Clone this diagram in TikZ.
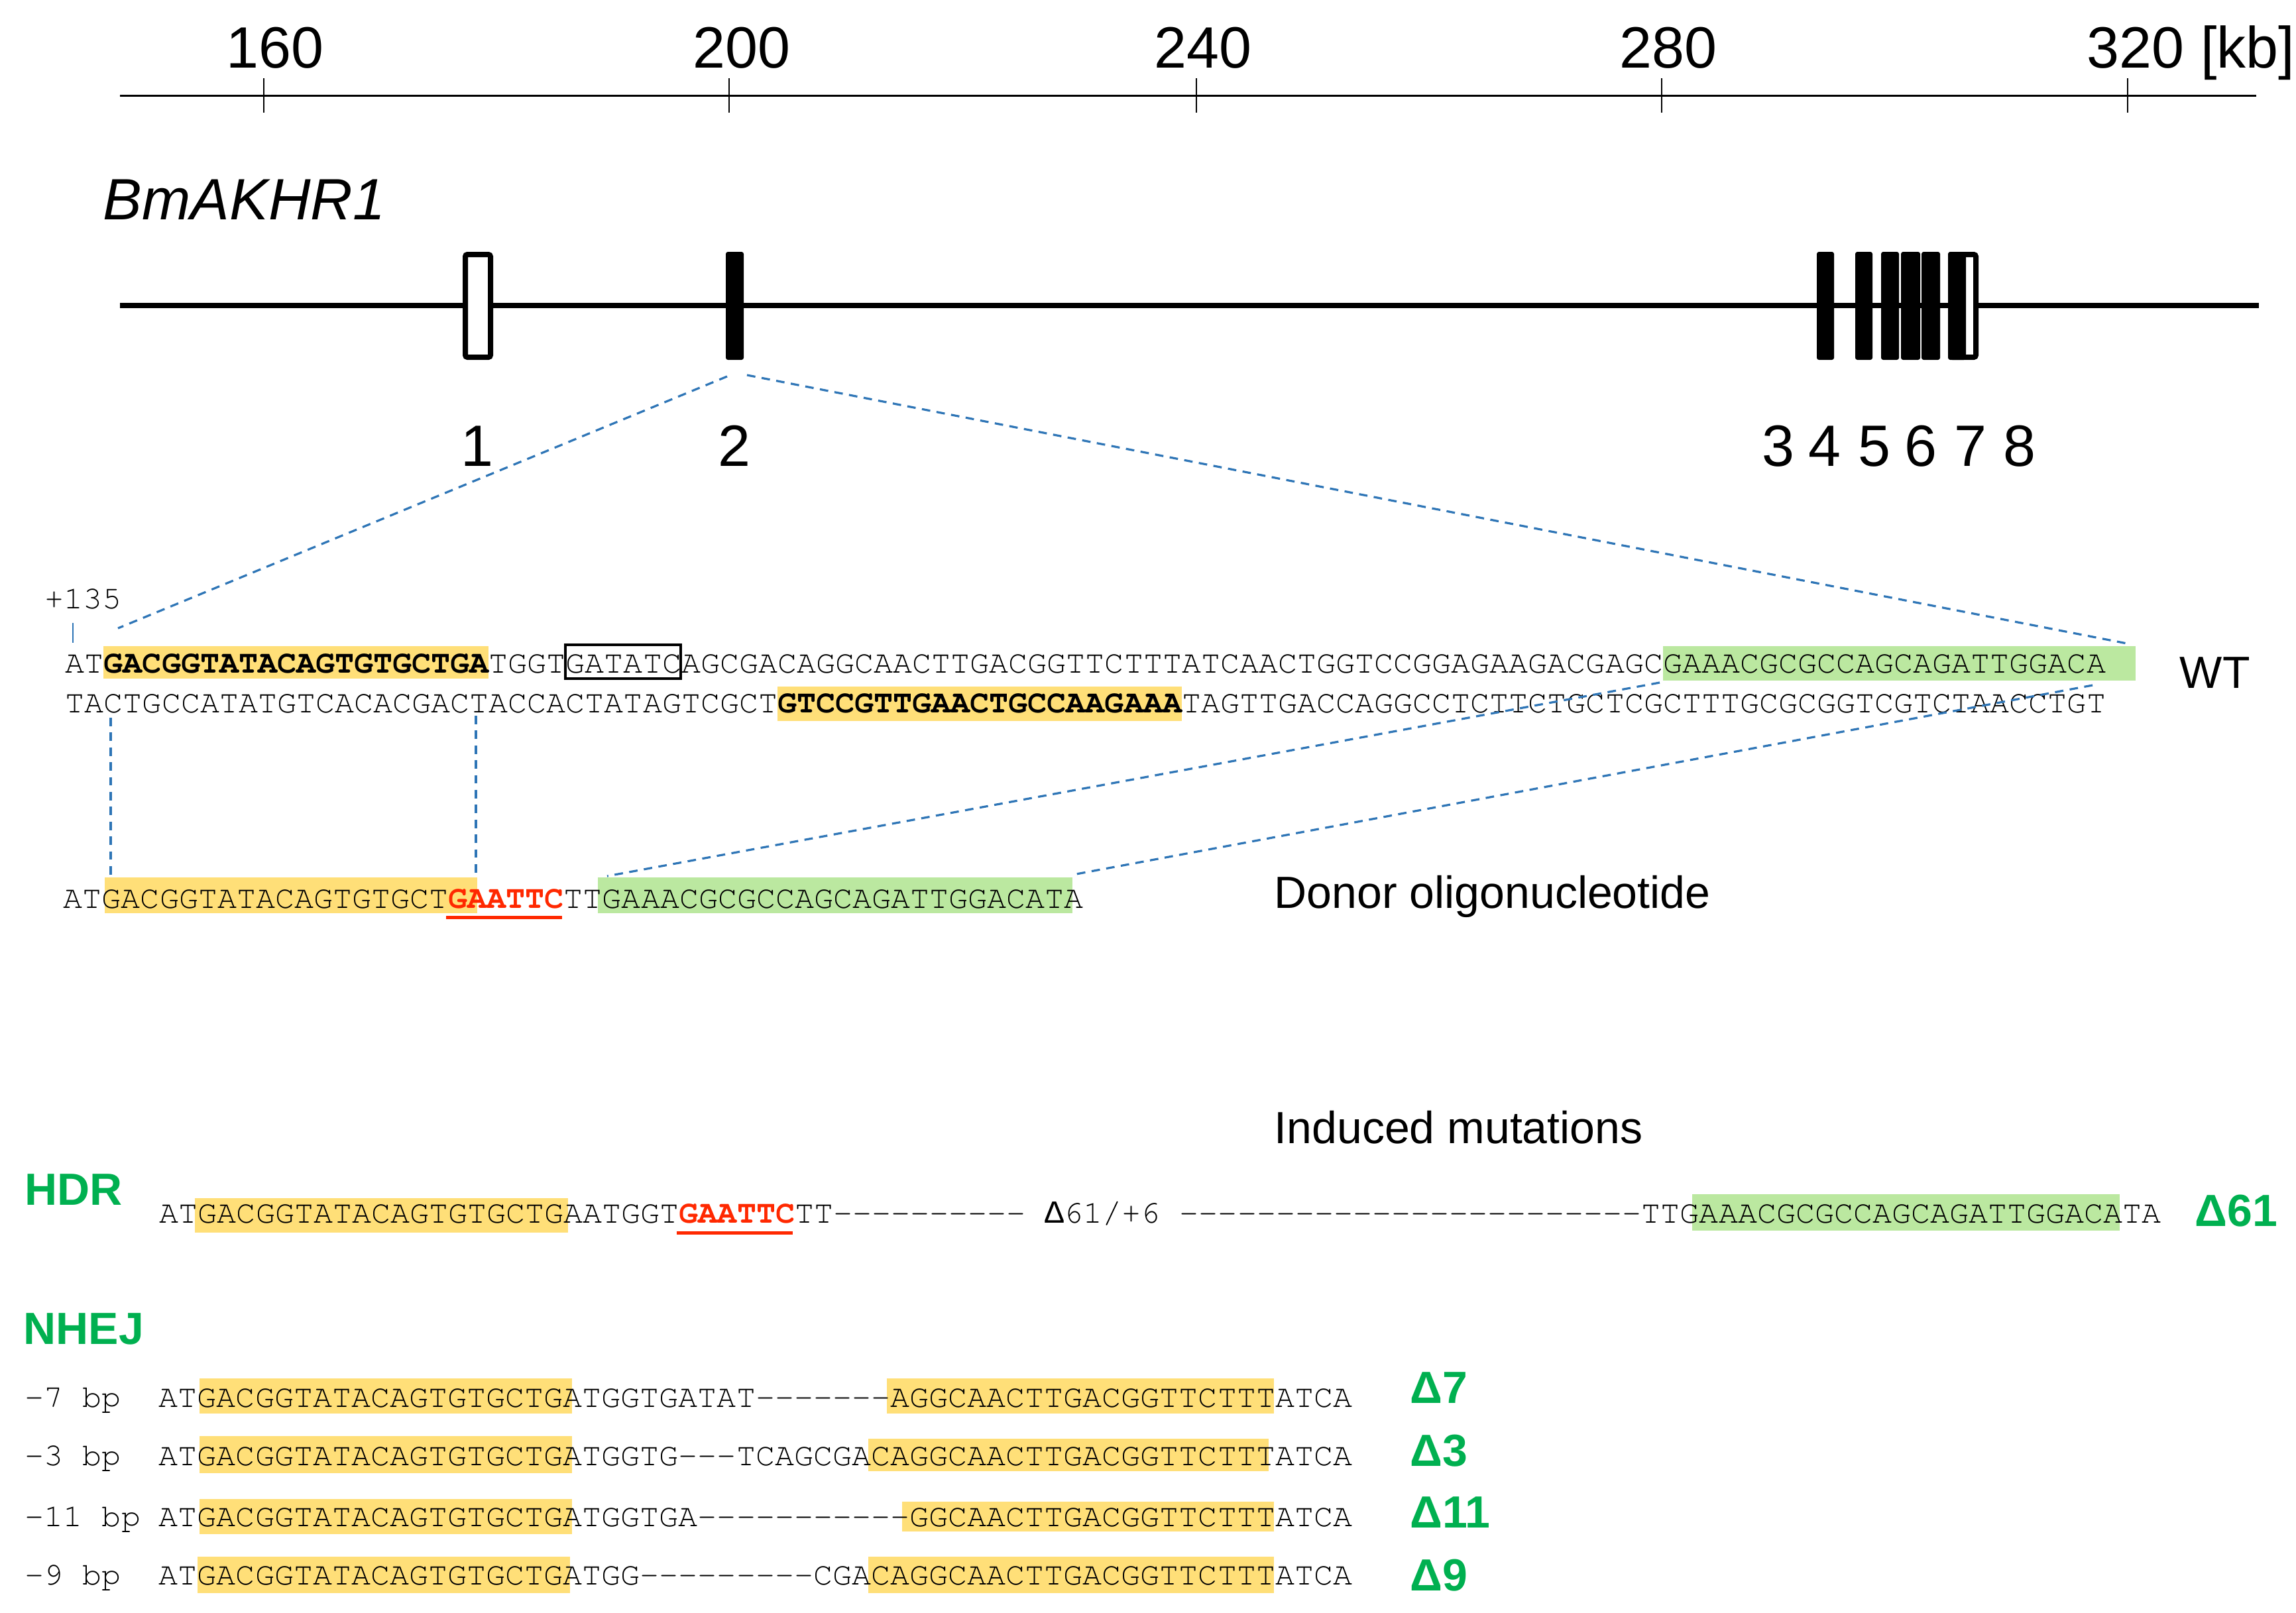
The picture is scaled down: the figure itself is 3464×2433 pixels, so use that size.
\documentclass[tikz,border=0pt]{standalone}
\usepackage[T1,TU]{fontenc}
\usepackage{fontspec}
\setmainfont{Liberation Sans}
\newfontfamily\dmono{Liberation Mono}
\definecolor{hlY}{RGB}{255,223,120}
\definecolor{hlG}{RGB}{187,232,160}
\definecolor{zblue}{RGB}{46,117,182}
\definecolor{tgreen}{RGB}{0,176,80}
\definecolor{seqred}{RGB}{255,40,0}
\newcommand\seqf{\fontencoding{T1}\fontfamily{pcr}\fontseries{m}\fontshape{n}\fontsize{12.1pt}{14pt}\selectfont}
\newcommand\seqbf[1]{{\fontseries{b}\selectfont #1}}
\newcommand\seqred[1]{{\color{seqred}\fontseries{b}\selectfont #1}}
\newcommand\seqsp{\hphantom{A}}
\newcommand\seqD{{\dmono\fontsize{12.1pt}{14pt}\selectfont Δ}}
\ExplSyntaxOn
\cs_new_protected:Npn \seqgap #1 { \prg_replicate:nn {#1} { -\kern0pt } }
\ExplSyntaxOff
\tikzset{
  seq/.style={anchor=base west, inner sep=0pt, font=\seqf},
  rlab/.style={anchor=base, inner sep=0pt, font=\fontsize{22pt}{26pt}\selectfont},
  lbl/.style={anchor=base west, inner sep=0pt, font=\fontsize{17pt}{20pt}\selectfont},
  glab/.style={anchor=base west, inner sep=0pt, text=tgreen, font=\fontsize{17pt}{20pt}\selectfont\bfseries},
  zoomline/.style={draw=zblue, line width=0.8pt, dash pattern=on 3.2pt off 2.4pt},
  hly/.style={fill=hlY},
  hlg/.style={fill=hlG},
  exon/.style={fill=black, rounded corners=0.8pt},
  oexon/.style={draw=black, line width=2pt, rounded corners=0.8pt},
  redline/.style={fill=seqred},
}
\begin{document}
\begin{tikzpicture}[x=0.25pt,y=-0.25pt]
\useasboundingbox (0,0) rectangle (3464,2433);
% ruler
\draw[line width=0.75pt] (181,144) -- (3404,144);
\foreach \t in {398,1100,1805,2507,3210} \draw[line width=0.5pt] (\t,118) -- (\t,170);
\node[rlab] (r160) at (415,102) {160};
\node[rlab] (r200) at (1119,102) {200};
\node[rlab] (r240) at (1815,102) {240};
\node[rlab] (r280) at (2517,102) {280};
\node[rlab, anchor=base west] (r320) at (3148,102) {320 [kb]};
% gene
\node[anchor=base west, inner sep=0pt, font=\fontsize{22pt}{26pt}\selectfont\itshape] (gname) at (155,331) {BmAKHR1};
\draw[line width=1.9pt] (181,461) -- (3408,461);
\fill[white] (702,384) rectangle (740,539);
\draw[oexon] (702,384) rectangle (740,539);
\fill[exon] (1095,380) rectangle (1122,543);
\fill[exon] (2741,380) rectangle (2767,543);
\fill[exon] (2799,380) rectangle (2825,543);
\fill[exon] (2838,380) rectangle (2865,543);
\fill[exon] (2868,380) rectangle (2897,543);
\fill[exon] (2899,380) rectangle (2927,543);
\fill[white] (2943,384) rectangle (2981,539);
\draw[oexon] (2943,384) rectangle (2981,539);
\fill[exon] (2939,380) rectangle (2966,543);
\node[rlab] (x1) at (720,703) {1};
\node[rlab] (x2) at (1108,703) {2};
\node[rlab] (x3) at (2683,703) {3};
\node[rlab] (x4) at (2753,703) {4};
\node[rlab] (x5) at (2828,703) {5};
\node[rlab] (x6) at (2898,703) {6};
\node[rlab] (x7) at (2973,703) {7};
\node[rlab] (x8) at (3047,703) {8};
% WT highlights
\fill[hly] (156,975) rectangle (737,1024);
\fill[hlg] (2509,975) rectangle (3222,1027);
\fill[hly] (1173,1036) rectangle (1783,1088);
\draw[line width=0.9pt] (853,973) rectangle (1027,1024);
\node[seq] (p135) at (67,918) {+135};
\draw[zblue, line width=0.5pt] (110,940) -- (110,970);
\node[seq] (wtTop) at (98,1015) {AT\seqbf{GACGGTATACAGTGTGCTGA}TGGTGATATCAGCGACAGGCAACTTGACGGTTCTTTATCAACTGGTCCGGAGAAGACGAGCGAAACGCGCCAGCAGATTGGACA};
\node[seq] (wtBot) at (98,1075) {TACTGCCATATGTCACACGACTACCACTATAGTCGCT\seqbf{GTCCGTTGAACTGCCAAGAAA}TAGTTGACCAGGCCTCTTCTGCTCGCTTTGCGCGGTCGTCTAACCTGT};
\node[lbl] (wt) at (3288,1038) {WT};
% donor
\fill[hly] (158,1324) rectangle (720,1378);
\fill[hlg] (902,1324) rectangle (1618,1378);
\fill[redline] (673,1382) rectangle (848,1387);
\node[seq] (donor) at (95,1370) {ATGACGGTATACAGTGTGCT\seqred{GAATTC}TTGAAACGCGCCAGCAGATTGGACATA};
\node[lbl] (donorlab) at (1922,1370) {Donor oligonucleotide};
% zoom connectors
\coordinate (e2l) at (1097,568);
\coordinate (e2r) at (1127,566);
\coordinate (wtL) at (178,948);
\coordinate (wtR) at (3214,972);
\draw[zoomline] (e2l) -- (wtL);
\draw[zoomline] (e2r) -- (wtR);
\coordinate (v1a) at (167,1083); \coordinate (v1b) at (167,1320);
\coordinate (v2a) at (718,1080); \coordinate (v2b) at (718,1318);
\draw[zoomline] (v1a) -- (v1b);
\draw[zoomline] (v2a) -- (v2b);
\coordinate (g1a) at (2504,1030); \coordinate (g1b) at (916,1322);
\coordinate (g2a) at (3157,1034); \coordinate (g2b) at (1618,1320);
\draw[zoomline] (g1a) -- (g1b);
\draw[zoomline] (g2a) -- (g2b);
% induced mutations
\node[lbl] (indlab) at (1922,1725) {Induced mutations};
\node[glab] (hdr) at (37,1818) {HDR};
\fill[hly] (294,1808) rectangle (857,1860);
\fill[hlg] (2553,1802) rectangle (3198,1857);
\fill[redline] (1021,1858) rectangle (1196,1863);
\node[seq] (hdrseq) at (240,1845) {ATGACGGTATACAGTGTGCTGAATGGT\seqred{GAATTC}TT\seqgap{10}\seqsp\seqD 61/+6\seqsp\seqgap{24}TTGAAACGCGCCAGCAGATTGGACATA};
\node[glab] (d61) at (3311,1850) {Δ61};
\node[glab] (nhej) at (35,2028) {NHEJ};
% NHEJ rows
\fill[hly] (301,2080) rectangle (863,2133);
\fill[hly] (1338,2080) rectangle (1922,2133);
\fill[hly] (301,2167) rectangle (863,2223);
\fill[hly] (1310,2171) rectangle (1914,2220);
\fill[hly] (301,2262) rectangle (863,2315);
\fill[hly] (1361,2266) rectangle (1922,2311);
\fill[hly] (298,2349) rectangle (860,2404);
\fill[hly] (1310,2349) rectangle (1922,2404);
\node[seq] (l1) at (37,2123) {-7 bp};
\node[seq] (l2) at (37,2211) {-3 bp};
\node[seq] (l3) at (37,2303) {-11 bp};
\node[seq] (l4) at (37,2391) {-9 bp};
\node[seq] (s1) at (239,2123) {ATGACGGTATACAGTGTGCTGATGGTGATAT\seqgap{7}AGGCAACTTGACGGTTCTTTATCA};
\node[seq] (s2) at (239,2211) {ATGACGGTATACAGTGTGCTGATGGTG\seqgap{3}TCAGCGACAGGCAACTTGACGGTTCTTTATCA};
\node[seq] (s3) at (239,2303) {ATGACGGTATACAGTGTGCTGATGGTGA\seqgap{11}GGCAACTTGACGGTTCTTTATCA};
\node[seq] (s4) at (239,2391) {ATGACGGTATACAGTGTGCTGATGG\seqgap{9}CGACAGGCAACTTGACGGTTCTTTATCA};
\node[glab] (d7) at (2127,2117) {Δ7};
\node[glab] (d3) at (2127,2212) {Δ3};
\node[glab] (d11) at (2127,2305) {Δ11};
\node[glab] (d9) at (2127,2400) {Δ9};
\end{tikzpicture}
\end{document}
